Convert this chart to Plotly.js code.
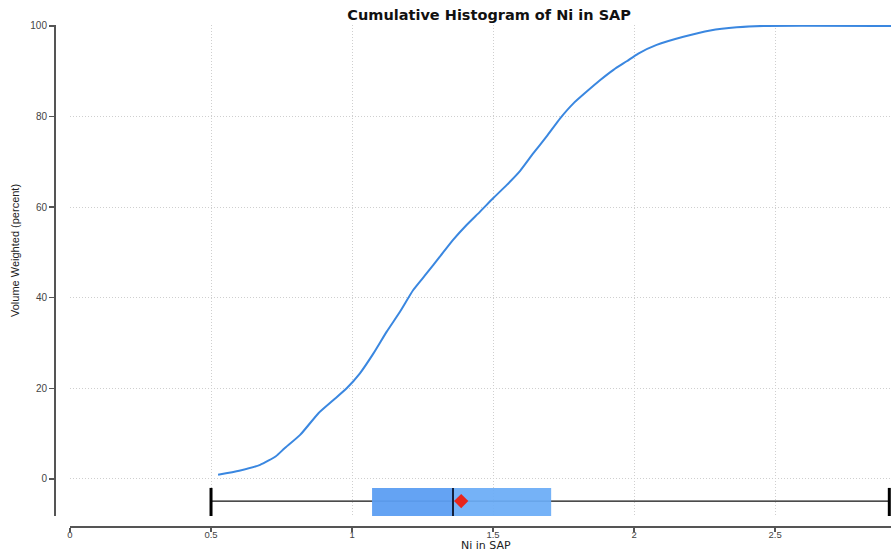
<!DOCTYPE html>
<html>
<head>
<meta charset="utf-8">
<script src="https://cdn.plot.ly/plotly-3.0.1.min.js"></script>
<style>html,body{margin:0;padding:0;background:#fff;}#chart{width:891px;height:554px;}</style>
</head>
<body>
<div id="chart"></div>
<script>
// Cumulative curve (Ni in SAP vs volume-weighted cumulative percent)
var curveX = [0.525, 0.60, 0.674, 0.73, 0.76, 0.816, 0.881, 0.934, 0.981, 1.028, 1.076, 1.123, 1.170, 1.217, 1.265, 1.312, 1.359, 1.407, 1.454, 1.501, 1.549, 1.596, 1.643, 1.690, 1.738, 1.785, 1.832, 1.879, 1.927, 1.974, 2.015, 2.080, 2.175, 2.270, 2.364, 2.459, 2.911];
var curveY = [0.9, 1.8, 3.1, 5.0, 6.7, 9.7, 14.5, 17.4, 20.0, 23.3, 27.7, 32.5, 36.9, 41.7, 45.4, 49.1, 52.8, 56.1, 59.0, 62.0, 64.9, 68.0, 71.9, 75.6, 79.6, 82.9, 85.5, 88.0, 90.3, 92.2, 93.9, 95.8, 97.6, 99.0, 99.7, 100, 100];

// Box plot statistics
var boxMin = 0.50;
var boxQ1 = 1.071;
var boxMedian = 1.358;
var boxQ3 = 1.706;
var boxMax = 2.905;
var boxMean = 1.387;

// Tick labels
var xTickVals = [0, 0.5, 1, 1.5, 2, 2.5];
var xTickText = ['0', '0.5', '1', '1.5', '2', '2.5'];
var yTickVals = [0, 20, 40, 60, 80, 100];
var yTickText = ['0', '20', '40', '60', '80', '100'];

// layout constants for box placement (y-axis units)
var boxCenter = -4.9, boxTop = -2.0, boxBot = -8.2;

var font = 'Liberation Sans, Arial, Helvetica, sans-serif';
var wide = 'DejaVu Sans, Liberation Sans, sans-serif';

var traces = [
  {x: [boxMin, boxMax], y: [boxCenter, boxCenter], mode: 'lines', line: {color: '#111', width: 1.2}, hoverinfo: 'skip'},
  {x: [boxMin, boxMin], y: [boxTop, boxBot], mode: 'lines', line: {color: '#000', width: 3}, hoverinfo: 'skip'},
  {x: [boxMax, boxMax], y: [boxTop, boxBot], mode: 'lines', line: {color: '#000', width: 3}, hoverinfo: 'skip'},
  {x: [boxQ1, boxMedian, boxMedian, boxQ1, boxQ1], y: [boxTop, boxTop, boxBot, boxBot, boxTop], mode: 'lines', fill: 'toself', fillcolor: 'rgba(92,158,242,0.95)', line: {width: 0, color: 'rgba(0,0,0,0)'}, hoverinfo: 'skip'},
  {x: [boxMedian, boxQ3, boxQ3, boxMedian, boxMedian], y: [boxTop, boxTop, boxBot, boxBot, boxTop], mode: 'lines', fill: 'toself', fillcolor: 'rgba(106,172,246,0.93)', line: {width: 0, color: 'rgba(0,0,0,0)'}, hoverinfo: 'skip'},
  {x: [boxMedian, boxMedian], y: [boxTop, boxBot], mode: 'lines', line: {color: '#14213d', width: 2}, hoverinfo: 'skip'},
  {x: [boxMean], y: [boxCenter], mode: 'markers', marker: {symbol: 'diamond', size: 11, color: '#e8251b', line: {width: 0}}, hoverinfo: 'skip'},
  {x: curveX, y: curveY, mode: 'lines', line: {color: '#3a87e0', width: 2, shape: 'spline', smoothing: 0.5}}
];

var W = 891, H = 554, L = 55, R = 0, T = 25, B = 27;
var pw = W - L - R, ph = H - T - B;

var layout = {
  width: W, height: H,
  margin: {l: L, r: R, t: T, b: B, pad: 0},
  showlegend: false,
  paper_bgcolor: '#fff', plot_bgcolor: '#fff',
  font: {family: font, color: '#333'},
  title: {text: '<b>Cumulative Histogram of Ni in SAP</b>', font: {family: wide, size: 14.5, color: '#111'}, xref: 'container', x: 0.549, xanchor: 'center', yref: 'container', y: 1 - 15 / H, yanchor: 'middle'},
  xaxis: {
    domain: [15 / pw, 1], range: [0, 2.911], anchor: 'free', position: 0,
    tickmode: 'array', tickvals: xTickVals, ticktext: xTickText,
    showline: true, linecolor: '#555', linewidth: 2,
    ticks: 'outside', ticklen: 4, tickwidth: 1.5, tickcolor: '#555',
    ticklabelstandoff: -5,
    tickfont: {size: 9.5, color: '#444', family: font},
    showgrid: true, gridcolor: '#cfcfcf', griddash: '1px,2px', gridwidth: 1,
    zeroline: false, fixedrange: true
  },
  yaxis: {
    domain: [11 / ph, 1], range: [-8.2, 100.2], anchor: 'free', position: 0,
    tickmode: 'array', tickvals: yTickVals, ticktext: yTickText,
    showline: true, linecolor: '#555', linewidth: 2,
    ticks: 'outside', ticklen: 5, tickwidth: 1.5, tickcolor: '#555',
    tickfont: {size: 10, color: '#444', family: font},
    showgrid: true, gridcolor: '#cfcfcf', griddash: '1px,2px', gridwidth: 1,
    zeroline: false, fixedrange: true
  },
  annotations: [
    {text: 'Ni in SAP', xref: 'paper', yref: 'paper', x: (486 - L) / pw, y: -(553 - (H - B)) / ph, xanchor: 'center', yanchor: 'bottom', borderpad: 0, showarrow: false, font: {family: wide, size: 11, color: '#222'}},
    {text: 'Volume Weighted (percent)', xref: 'paper', yref: 'paper', x: (15 - L) / pw, y: ((H - B) - 251) / ph, xanchor: 'center', yanchor: 'middle', textangle: -90, showarrow: false, font: {family: font, size: 11, color: '#222'}}
  ]
};

Plotly.newPlot('chart', traces, layout, {displayModeBar: false, staticPlot: true});
</script>
</body>
</html>
